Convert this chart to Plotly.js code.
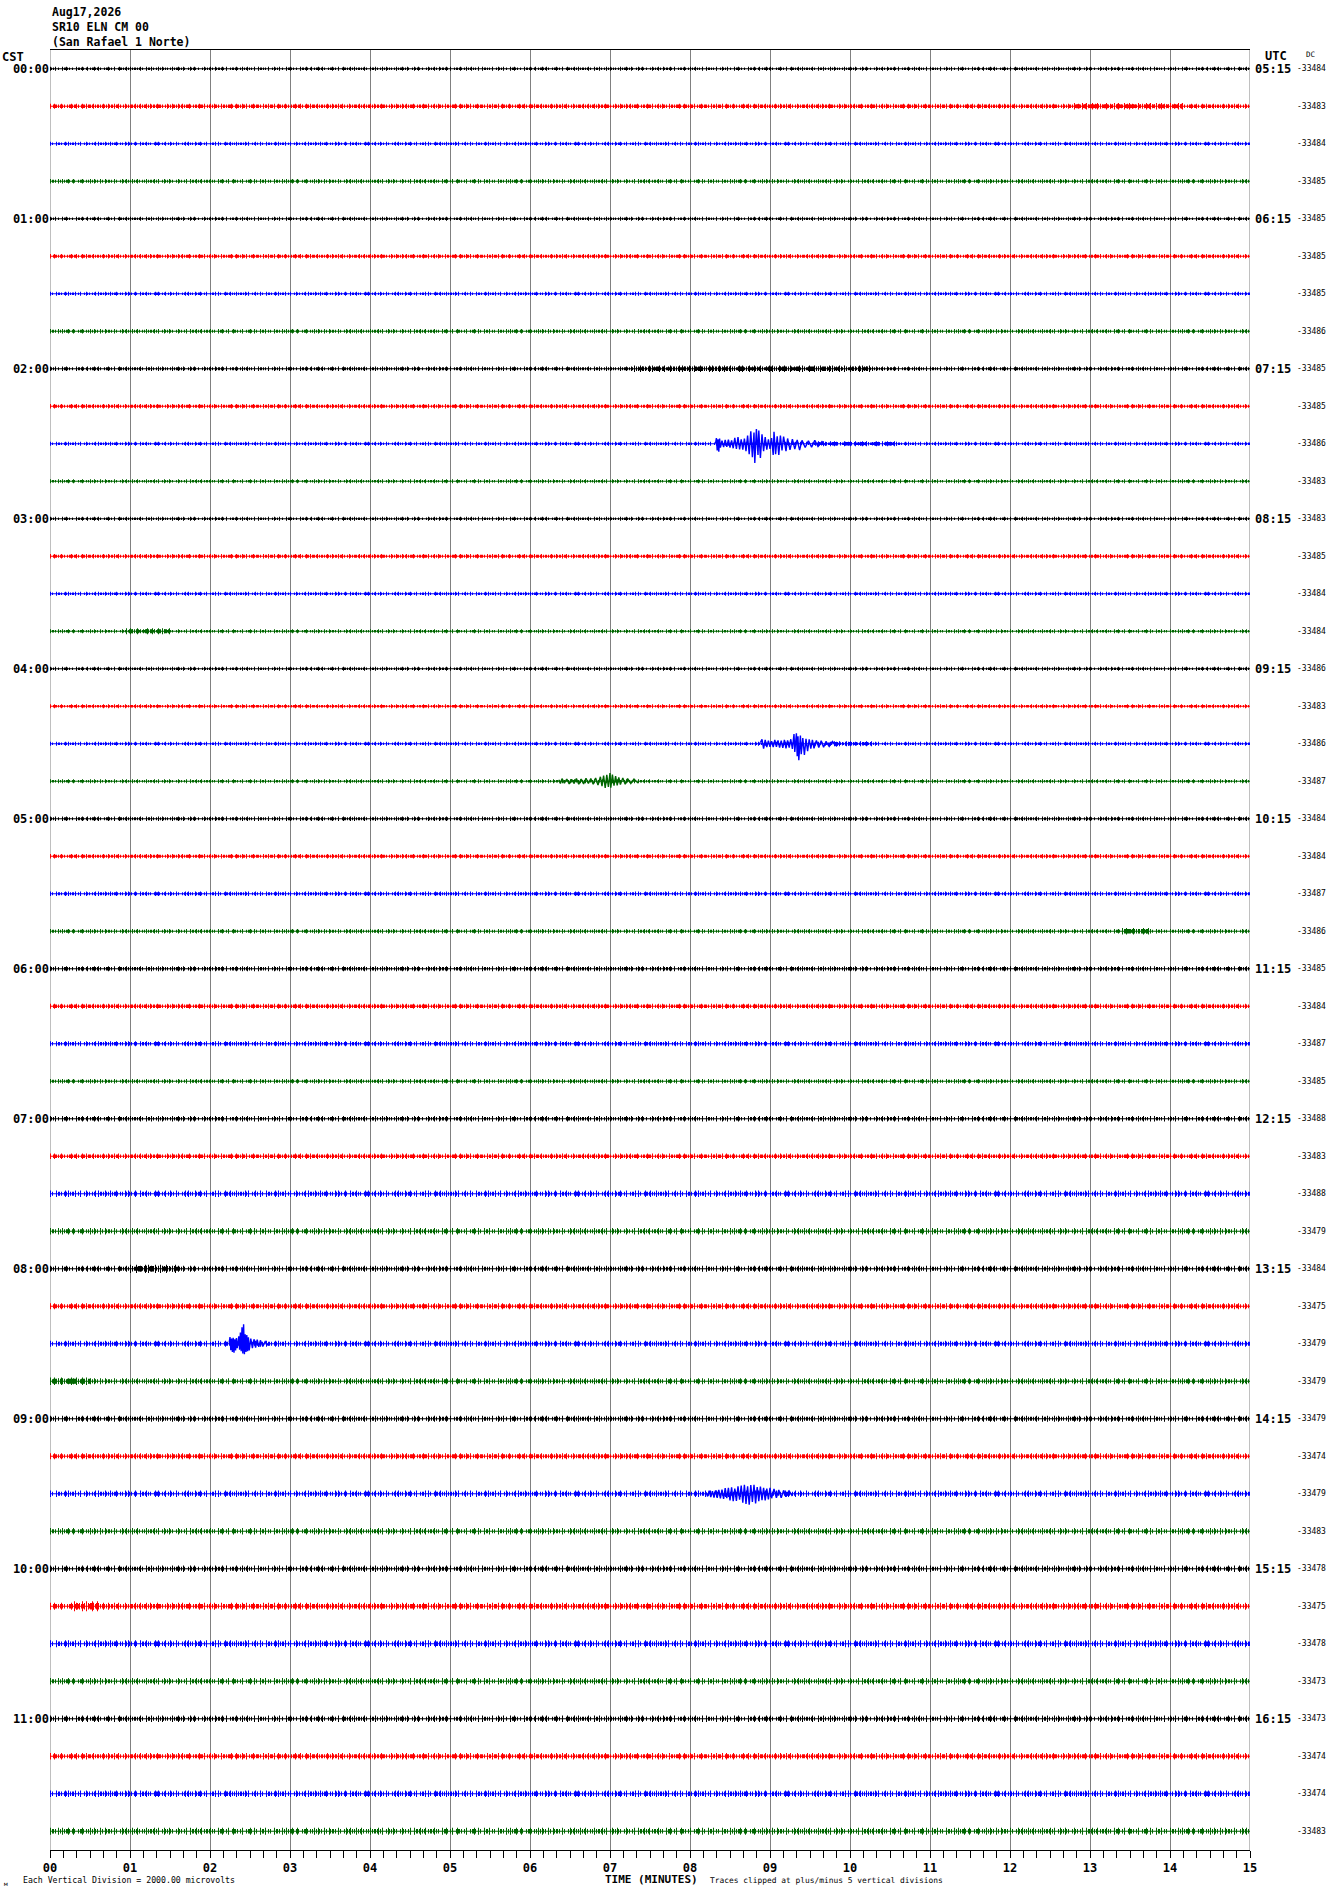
<!DOCTYPE html>
<html>
<head>
<meta charset="utf-8">
<script src="https://cdn.plot.ly/plotly-3.0.1.min.js"></script>
<style>
  html, body { margin: 0; padding: 0; background: #ffffff; }
  #chart { width: 1330px; height: 1894px; }
</style>
</head>
<body>
<div id="chart"></div>
<script>
// ---------------- DATA ----------------
const headerLines = ['Aug17,2026', 'SR10 ELN CM 00', '(San Rafael 1 Norte)'];
const cstLabels = ['00:00','01:00','02:00','03:00','04:00','05:00','06:00','07:00','08:00','09:00','10:00','11:00'];
const utcLabels = ['05:15','06:15','07:15','08:15','09:15','10:15','11:15','12:15','13:15','14:15','15:15','16:15'];
const minuteLabels = ['00','01','02','03','04','05','06','07','08','09','10','11','12','13','14','15'];
const dcValues = [
  -33484,-33483,-33484,-33485, -33485,-33485,-33485,-33486,
  -33485,-33485,-33486,-33483, -33483,-33485,-33484,-33484,
  -33486,-33483,-33486,-33487, -33484,-33484,-33487,-33486,
  -33485,-33484,-33487,-33485, -33488,-33483,-33488,-33479,
  -33484,-33475,-33479,-33479, -33479,-33474,-33479,-33483,
  -33478,-33475,-33478,-33473, -33473,-33474,-33474,-33483
];
// background noise half-amplitude of each trace (in trace spacings)
const noiseAmp = [
  0.053,0.067,0.053,0.059, 0.053,0.059,0.053,0.059,
  0.059,0.059,0.053,0.053, 0.053,0.059,0.053,0.053,
  0.053,0.053,0.053,0.053, 0.059,0.059,0.059,0.059,
  0.067,0.067,0.067,0.061, 0.075,0.075,0.085,0.085,
  0.080,0.080,0.080,0.080, 0.080,0.080,0.085,0.085,
  0.085,0.093,0.093,0.085, 0.085,0.085,0.088,0.093
];
// stretches of raised noise: [trace, start minute, end minute, extra amplitude]
const noiseBursts = [
  [1, 12.8, 14.2, 0.02],
  [8, 7.3, 10.3, 0.03],
  [10, 9.6, 10.6, 0.015],
  [15, 0.95, 1.5, 0.03],
  [18, 9.8, 10.3, 0.015],
  [23, 13.4, 13.75, 0.03],
  [32, 1.0, 1.6, 0.03],
  [35, 0.0, 0.5, 0.02],
  [41, 0.3, 0.65, 0.04]
];
// recorded events: minute and displacement (up positive, in trace spacings)
const ev0230Trace = 10;
const ev0230T = [8.32,8.33,8.34,8.35,8.36,8.37,8.38,8.40,8.42,8.44,8.46,8.48,8.50,8.52,8.54,8.56,8.58,8.60,8.62,8.64,8.66,8.68,8.70,8.72,8.74,8.76,8.78,8.80,8.81,8.83,8.85,8.86,8.88,8.90,8.92,8.94,8.96,8.98,9.00,9.02,9.04,9.05,9.07,9.09,9.11,9.13,9.15,9.17,9.20,9.22,9.25,9.28,9.31,9.34,9.37,9.40,9.44,9.48,9.52,9.56,9.60,9.65,9.70];
const ev0230V = [0.02,0.15,-0.18,0.12,-0.21,0.14,-0.10,0.08,-0.09,0.10,-0.08,0.11,-0.10,0.09,-0.12,0.16,-0.14,0.18,-0.15,0.12,-0.16,0.14,-0.20,0.22,-0.28,0.33,-0.36,0.30,-0.51,0.39,-0.30,0.35,-0.38,0.25,-0.20,0.18,-0.16,0.12,-0.14,0.15,-0.30,0.32,-0.28,0.20,-0.30,0.22,-0.18,0.19,-0.20,0.14,-0.16,0.12,-0.14,0.10,-0.17,0.09,-0.10,0.08,-0.09,0.09,-0.07,0.06,-0.05];

const ev0430Trace = 18;
const ev0430T = [8.88,8.90,8.92,8.94,8.96,8.98,9.00,9.02,9.04,9.06,9.08,9.10,9.12,9.14,9.16,9.18,9.20,9.22,9.24,9.26,9.28,9.30,9.31,9.33,9.34,9.35,9.36,9.38,9.39,9.41,9.43,9.45,9.47,9.49,9.51,9.53,9.55,9.58,9.61,9.64,9.67,9.70,9.74,9.78,9.83,9.88];
const ev0430V = [0.03,0.12,-0.13,0.10,-0.09,0.08,-0.08,0.07,-0.09,0.10,-0.08,0.09,-0.10,0.08,-0.11,0.10,-0.12,0.09,-0.10,0.12,-0.14,0.26,-0.22,0.28,-0.33,0.20,-0.44,0.22,-0.28,0.15,-0.30,0.13,-0.20,0.12,-0.13,0.10,-0.12,0.09,-0.10,0.08,-0.09,0.06,-0.07,0.06,-0.06,0.05];

const ev0445Trace = 19;
const ev0445T = [6.36,6.38,6.40,6.43,6.46,6.49,6.52,6.55,6.58,6.61,6.64,6.67,6.70,6.73,6.76,6.79,6.82,6.85,6.88,6.90,6.92,6.94,6.96,6.98,7.00,7.01,7.03,7.05,7.07,7.09,7.11,7.13,7.16,7.19,7.22,7.26,7.30,7.35];
const ev0445V = [0.04,-0.06,0.07,-0.05,0.06,-0.07,0.05,-0.06,0.07,-0.08,0.06,-0.07,0.08,-0.06,0.07,-0.08,0.09,-0.10,0.12,-0.13,0.15,-0.18,0.17,-0.15,0.22,-0.17,0.18,-0.12,0.14,-0.11,0.10,-0.09,0.09,-0.08,0.07,-0.06,0.06,-0.05];

const ev0830Trace = 34;
const ev0830T = [2.24,2.25,2.26,2.27,2.28,2.29,2.30,2.31,2.32,2.33,2.34,2.36,2.37,2.38,2.39,2.40,2.41,2.42,2.43,2.44,2.45,2.46,2.47,2.48,2.49,2.51,2.53,2.55,2.57,2.59,2.61,2.63,2.66,2.69,2.73];
const ev0830V = [0.03,0.18,-0.17,0.14,-0.22,0.16,-0.24,0.12,-0.18,0.15,-0.12,0.20,-0.16,0.30,-0.20,0.44,-0.26,0.52,-0.28,0.25,-0.22,0.23,-0.20,0.17,-0.18,0.14,-0.12,0.12,-0.10,0.11,-0.08,0.09,-0.07,0.06,-0.05];

const ev0930Trace = 38;
const ev0930T = [8.20,8.22,8.24,8.26,8.28,8.30,8.32,8.34,8.36,8.38,8.40,8.42,8.44,8.46,8.48,8.50,8.52,8.54,8.56,8.58,8.60,8.62,8.64,8.66,8.68,8.70,8.72,8.74,8.76,8.78,8.80,8.82,8.84,8.86,8.88,8.90,8.92,8.94,8.96,8.98,9.00,9.02,9.05,9.08,9.11,9.14,9.17,9.20,9.24,9.28];
const ev0930V = [0.04,-0.07,0.08,-0.09,0.07,-0.10,0.09,-0.11,0.10,-0.12,0.11,-0.14,0.15,-0.12,0.16,-0.18,0.17,-0.20,0.14,-0.19,0.20,-0.16,0.22,-0.24,0.24,-0.27,0.20,-0.29,0.23,-0.22,0.24,-0.26,0.18,-0.20,0.19,-0.17,0.16,-0.18,0.14,-0.15,0.16,-0.12,0.13,-0.11,0.10,-0.11,0.09,-0.08,0.07,-0.06];

// ---------------- STYLE ----------------
const traceColors = ['#000000', '#ff0000', '#0000ff', '#006600'];
const MONO = 'DejaVu Sans Mono, Liberation Mono, monospace';
const nTraces = dcValues.length;
const PX_PER_TRACE = 37.5;            // plot height 1800 px / 48 traces
// irregular dash patterns give the stroke a column-by-column wiggle texture
const densePatterns = [
  [1,1,2,1,1,2,1,1,1,3], [2,1,1,1,1,2,1,3,1,1], [1,2,1,1,2,1,1,1,3,1], [1,1,1,3,1,1,2,1,1,2]
];
const sparsePatterns = [
  [1,4,1,6,1,3,1,9,1,5], [1,7,1,3,1,5,1,4,1,8], [1,5,1,8,1,2,1,6,1,4], [1,3,1,6,1,9,1,4,1,5]
];
const dashStr = arr => arr.map(v => v + 'px').join(',');

// ---------------- BUILD ----------------
const data = [];
function noiseStroke(i, t0, t1, amp, k) {
  const col = traceColors[i % 4];
  const ampPx = amp * PX_PER_TRACE;
  data.push({type: 'scatter', mode: 'lines', x: [t0, t1], y: [i, i],
    line: {width: 2 * ampPx, color: col, dash: dashStr(sparsePatterns[(i * 3 + k) % 4])}, hoverinfo: 'skip', showlegend: false});
  data.push({type: 'scatter', mode: 'lines', x: [t0, t1], y: [i, i],
    line: {width: 1.3 * ampPx, color: col, dash: dashStr(densePatterns[(i * 5 + 1 + k) % 4])}, hoverinfo: 'skip', showlegend: false});
}
for (let i = 0; i < nTraces; i++) {
  noiseStroke(i, 0, 15, noiseAmp[i], 0);
  data.push({type: 'scatter', mode: 'lines', x: [0, 15], y: [i, i],
    line: {width: 1.2, color: traceColors[i % 4]}, hoverinfo: 'skip', showlegend: false});
}
// raised-noise stretches
noiseBursts.forEach(b => noiseStroke(b[0], b[1], b[2], noiseAmp[b[0]] + b[3], 2));
// recorded events
[[ev0230Trace, ev0230T, ev0230V], [ev0430Trace, ev0430T, ev0430V], [ev0445Trace, ev0445T, ev0445V],
 [ev0830Trace, ev0830T, ev0830V], [ev0930Trace, ev0930T, ev0930V]].forEach(ev => {
  const tr = ev[0];
  data.push({type: 'scatter', mode: 'lines', x: ev[1], y: ev[2].map(v => tr - v),
    line: {width: 1.4, color: traceColors[tr % 4]}, hoverinfo: 'skip', showlegend: false});
});

// pixel helpers for paper-referenced text
const L = 50, R = 80, T = 50, B = 44, W = 1330, H = 1894;
const px = x => (x - L) / (W - L - R);
const py = y => (H - B - y) / (H - T - B);

const annotations = [];
headerLines.forEach((s, k) => annotations.push({xref: 'paper', yref: 'paper', x: px(50), y: py(12 + 14.8 * k),
  xanchor: 'left', yanchor: 'middle', text: s, showarrow: false, font: {family: MONO, size: 11.5, color: '#000', weight: 'bold'}}));
annotations.push({xref: 'paper', yref: 'paper', x: px(0), y: py(57), xanchor: 'left', yanchor: 'middle',
  text: 'CST', showarrow: false, font: {family: MONO, size: 12, color: '#000', weight: 'bold'}});
annotations.push({xref: 'paper', yref: 'paper', x: px(1276), y: py(56), xanchor: 'center', yanchor: 'middle',
  text: 'UTC', showarrow: false, font: {family: MONO, size: 12, color: '#000', weight: 'bold'}});
annotations.push({xref: 'paper', yref: 'paper', x: px(1310), y: py(54), xanchor: 'center', yanchor: 'middle',
  text: 'DC', showarrow: false, font: {family: MONO, size: 7.5, color: '#000'}});
utcLabels.forEach((s, k) => annotations.push({xref: 'paper', yref: 'y', x: px(1253), y: 4 * k, xanchor: 'left', yanchor: 'middle',
  text: s, showarrow: false, font: {family: MONO, size: 12, color: '#000', weight: 'bold'}}));
dcValues.forEach((v, i) => annotations.push({xref: 'paper', yref: 'y', x: px(1295), y: i, xanchor: 'left', yanchor: 'middle',
  text: String(v), showarrow: false, font: {family: MONO, size: 8, color: '#000'}}));
annotations.push({xref: 'paper', yref: 'paper', x: px(651), y: py(1879), xanchor: 'center', yanchor: 'middle',
  text: 'TIME (MINUTES)', showarrow: false, font: {family: MONO, size: 11, color: '#000', weight: 'bold'}});
annotations.push({xref: 'paper', yref: 'paper', x: px(21), y: py(1880), xanchor: 'left', yanchor: 'middle',
  text: 'Each Vertical Division = 2000.00 microvolts', showarrow: false, font: {family: MONO, size: 8.2, color: '#000'}});
annotations.push({xref: 'paper', yref: 'paper', x: px(708), y: py(1880), xanchor: 'left', yanchor: 'middle',
  text: 'Traces clipped at plus/minus 5 vertical divisions', showarrow: false, font: {family: MONO, size: 7.9, color: '#000'}});
annotations.push({xref: 'paper', yref: 'paper', x: px(2), y: py(1883), xanchor: 'left', yanchor: 'middle',
  text: 'м', showarrow: false, font: {family: MONO, size: 6, color: '#000'}});

const layout = {
  width: W, height: H,
  margin: {l: L, r: R, t: T, b: B, pad: 0},
  paper_bgcolor: '#ffffff', plot_bgcolor: '#ffffff',
  showlegend: false, hovermode: false,
  xaxis: {
    range: [0, 15], fixedrange: true,
    tickmode: 'array', tickvals: minuteLabels.map((s, k) => k), ticktext: minuteLabels,
    tickfont: {family: MONO, size: 12, color: '#000', weight: 'bold'},
    ticks: 'outside', ticklen: 7, tickwidth: 1, tickcolor: '#000',
    minor: {dtick: 1 / 6, tick0: 0, ticks: 'outside', ticklen: 7, tickwidth: 1, tickcolor: '#000', showgrid: false},
    showgrid: true, gridcolor: '#808080', gridwidth: 1,
    zeroline: false, showline: true, linecolor: '#000', linewidth: 1, mirror: true
  },
  yaxis: {
    range: [nTraces - 0.5, -0.5], fixedrange: true,
    tickmode: 'array', tickvals: cstLabels.map((s, k) => 4 * k), ticktext: cstLabels,
    tickfont: {family: MONO, size: 12, color: '#000', weight: 'bold'},
    ticks: '', showgrid: false, zeroline: false, showline: false
  },
  shapes: [
    {type: 'line', xref: 'x', yref: 'paper', x0: 0, x1: 0, y0: 0, y1: 1, line: {color: '#808080', width: 1}, layer: 'below'},
    {type: 'line', xref: 'x', yref: 'paper', x0: 15, x1: 15, y0: 0, y1: 1, line: {color: '#808080', width: 1}, layer: 'below'}
  ],
  annotations: annotations
};

Plotly.newPlot('chart', data, layout, {displayModeBar: false, staticPlot: true});
</script>
</body>
</html>
